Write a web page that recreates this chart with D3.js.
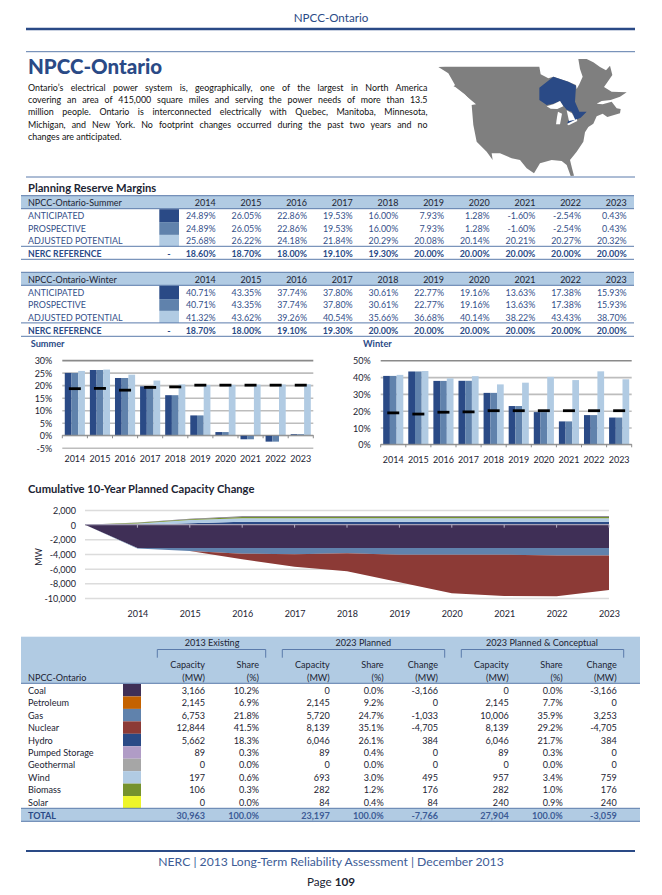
<!DOCTYPE html>
<html><head><meta charset="utf-8">
<script src="https://cdn.jsdelivr.net/npm/d3@7"></script>
<style>html,body{margin:0;padding:0;background:#fff}svg{display:block}text{font-family:Lato,"Open Sans",sans-serif;dominant-baseline:central}</style>
</head><body><svg id="page" width="662" height="895"></svg>
<script>
// ---------- data ----------
const years = [2014,2015,2016,2017,2018,2019,2020,2021,2022,2023];
const marginRows = ["ANTICIPATED","PROSPECTIVE","ADJUSTED POTENTIAL"];
const summerAnticipated = [24.89,26.05,22.86,19.53,16.00,7.93,1.28,-1.60,-2.54,0.43];
const summerProspective = [24.89,26.05,22.86,19.53,16.00,7.93,1.28,-1.60,-2.54,0.43];
const summerAdjusted = [25.68,26.22,24.18,21.84,20.29,20.08,20.14,20.21,20.27,20.32];
const summerReference = [18.60,18.70,18.00,19.10,19.30,20.00,20.00,20.00,20.00,20.00];
const winterAnticipated = [40.71,43.35,37.74,37.80,30.61,22.77,19.16,13.63,17.38,15.93];
const winterProspective = [40.71,43.35,37.74,37.80,30.61,22.77,19.16,13.63,17.38,15.93];
const winterAdjusted = [41.32,43.62,39.26,40.54,35.66,36.68,40.14,38.22,43.43,38.70];
const winterReference = [18.70,18.00,19.10,19.30,20.00,20.00,20.00,20.00,20.00,20.00];
const summerTicks = [-5,0,5,10,15,20,25,30];
const winterTicks = [0,10,20,30,40,50];

const areaYears = [2013,2014,2015,2016,2017,2018,2019,2020,2021,2022,2023];
const areaCoal = [0,-3166,-3166,-3166,-3166,-3166,-3166,-3166,-3166,-3166,-3166];
const areaGas = [0,-100,-420,-790,-870,-740,-925,-925,-925,-1033,-1033];
const areaNuclear = [0,0,0,-770,-1690,-2460,-3770,-5270,-5640,-5570,-4705];
const areaHydro = [0,0,180,384,384,384,384,384,384,384,384];
const areaWind = [0,150,440,495,495,495,495,495,495,495,495];
const areaBiomass = [0,100,130,176,176,176,176,176,176,176,176];
const areaSolar = [0,50,70,84,84,84,84,84,84,84,84];
const areaTicks = [2000,0,-2000,-4000,-6000,-8000,-10000];

const fuels = ["Coal","Petroleum","Gas","Nuclear","Hydro","Pumped Storage","Geothermal","Wind","Biomass","Solar"];
const fuelColors = ["#3f2f56","#c46200","#6082ac","#8c3a36","#2a4a86","#b09cc6","#a6a6a6","#b1cbe3","#76922d","#eef52a"];
const existingCapacity = [3166,2145,6753,12844,5662,89,0,197,106,0];
const existingShare = [10.2,6.9,21.8,41.5,18.3,0.3,0.0,0.6,0.3,0.0];
const plannedCapacity = [0,2145,5720,8139,6046,89,0,693,282,84];
const plannedShare = [0.0,9.2,24.7,35.1,26.1,0.4,0.0,3.0,1.2,0.4];
const plannedChange = [-3166,0,-1033,-4705,384,0,0,495,176,84];
const conceptualCapacity = [0,2145,10006,8139,6046,89,0,957,282,240];
const conceptualShare = [0.0,7.7,35.9,29.2,21.7,0.3,0.0,3.4,1.0,0.9];
const conceptualChange = [-3166,0,3253,-4705,384,0,0,759,176,240];
const totals = [30963,100.0,23197,100.0,-7766,27904,100.0,-3059];

const bodyLines = [
 "Ontario\u2019s electrical power system is, geographically, one of the largest in North America",
 "covering an area of 415,000 square miles and serving the power needs of more than 13.5",
 "million people. Ontario is interconnected electrically with Quebec, Manitoba, Minnesota,",
 "Michigan, and New York. No footprint changes occurred during the past two years and no",
 "changes are anticipated."];

// map outlines, in the map's own sketch units
const mapLand = [[55,66],[75,65],[358,65],[362,88],[385,100],[400,95],[445,110],[468,120],[470,132],[478,118],[488,95],[480,72],[475,42],[500,42],[520,52],[540,66],[558,76],[570,62],[577,90],[562,112],[552,126],[575,140],[620,142],[600,155],[572,165],[545,168],[530,176],[548,178],[575,170],[590,190],[602,192],[600,205],[562,216],[548,206],[530,214],[520,236],[505,246],[495,262],[490,290],[470,320],[450,345],[456,370],[462,392],[452,393],[440,360],[425,348],[395,345],[360,355],[342,385],[320,370],[300,345],[275,340],[240,325],[215,325],[218,345],[200,320],[170,290],[160,240],[155,180],[168,178],[135,150],[100,125],[105,120],[85,85]];
const mapOntario = [[358,128],[400,95],[445,110],[468,122],[465,170],[478,200],[500,200],[482,218],[468,224],[441,236],[448,222],[462,214],[455,200],[440,194],[428,180],[420,168],[400,176],[380,180],[358,165]];
const mapLakes = [
 [[380,184],[400,178],[420,168],[430,184],[412,192],[392,191]],
 [[414,200],[426,206],[420,238],[408,238],[411,216]],
 [[440,196],[456,205],[466,224],[447,228],[443,210]],
 [[441,237],[470,222],[472,228],[446,241]],
 [[96,122],[106,126],[134,148],[150,165],[132,152],[108,138]]
];

// ---------- helpers ----------
const NAVY="#2a4a86", RULE="#5b7bab", BAND="#b1cbe3", INK="#1c2433", VAL="#34508a";
const svg=d3.select("#page");
function t(x,y,s,o={}){
  return svg.append("text").attr("x",x).attr("y",y).text(s)
    .attr("text-anchor",o.a||"start").attr("font-size",o.s||9)
    .attr("font-weight",o.w||(o.b?"700":"400")).attr("fill",o.c||INK);
}
function hr(x1,x2,y,c=RULE,w=1){svg.append("line").attr("x1",x1).attr("x2",x2).attr("y1",y).attr("y2",y).attr("stroke",c).attr("stroke-width",w);}
const pct=v=>v.toFixed(2)+"%";

// ---------- page furniture ----------
t(331,17,"NPCC-Ontario",{a:"middle",s:11.6,c:NAVY});
hr(26,635,29,NAVY,2.4);
hr(26,635,51.7);
hr(26,635,177);
t(28,66,"NPCC-Ontario",{s:20.5,w:"900",c:NAVY});
const bodyY=[87,99.6,111.8,124.2,136.7];
bodyLines.forEach((line,i)=>{
  const n=t(28,bodyY[i],line,{s:8.9,c:"#111"});
  if(i<bodyLines.length-1){
    const gaps=line.split(" ").length-1, len=n.node().getComputedTextLength();
    n.attr("word-spacing",(399.5-len)/gaps);
  }
});

// map
const mapGeo=d3.geoPath(d3.geoIdentity().scale(1/3).translate([420,45]));
const poly=r=>({type:"Polygon",coordinates:[[...r,r[0]].reverse()]});
svg.append("path").attr("d",mapGeo(poly(mapLand))).attr("fill","#7f7f7f");
svg.append("path").attr("d",mapGeo(poly(mapOntario))).attr("fill",NAVY);
mapLakes.forEach(l=>svg.append("path").attr("d",mapGeo(poly(l))).attr("fill","#fff"));

// ---------- reserve margin tables ----------
t(28,187,"Planning Reserve Margins",{s:11.2,b:1});
const colX=d3.scalePoint().domain(years).range([215.7,626.7]);
const shades=[NAVY,"#6082ac",BAND];
function marginTable(top,title,rows,ref,rowY){
  svg.append("rect").attr("x",21).attr("y",top).attr("width",613).attr("height",13).attr("fill",BAND);
  hr(21,634,top,RULE,1); hr(21,634,top+13,RULE,1);
  t(28,top+7,title,{s:9,c:INK});
  years.forEach(y=>t(colX(y),top+7,y,{a:"end",s:9,c:INK}));
  const edges=[top+13.5,rowY[0]+6.4,rowY[1]+6.2,rowY[2]+5.6];
  marginRows.forEach((name,i)=>{
    t(28,rowY[i],name,{s:8.9,c:VAL});
    svg.append("rect").attr("x",159.3).attr("y",edges[i]).attr("width",19.7).attr("height",edges[i+1]-edges[i]).attr("fill",shades[i]);
    years.forEach((y,j)=>t(colX(y),rowY[i],pct(rows[i][j]),{a:"end",s:8.9,c:VAL}));
  });
  hr(21,634,rowY[2]+5.6,RULE,1);
  t(28,rowY[3],"NERC REFERENCE",{s:8.7,b:1,c:NAVY});
  t(169,rowY[3],"-",{a:"middle",s:9,b:1,c:NAVY});
  years.forEach((y,j)=>t(colX(y),rowY[3],pct(ref[j]),{a:"end",s:8.9,b:1,c:NAVY}));
  hr(21,634,rowY[3]+5.6,RULE,1);
}
marginTable(195.7,"NPCC-Ontario-Summer",[summerAnticipated,summerProspective,summerAdjusted],summerReference,[215.7,228.7,240.7,253.7]);
marginTable(272.3,"NPCC-Ontario-Winter",[winterAnticipated,winterProspective,winterAdjusted],winterReference,[292.7,304.7,317.3,330.7]);

// ---------- bar charts ----------
function barChart(o){
  const g=svg.append("g");
  const x=d3.scaleBand().domain(years).range([o.x0,o.x1]);
  const y=d3.scaleLinear().domain(o.domain).range([o.yBottom,o.yTop]);
  const inner=d3.scaleBand().domain([0,1,2]).range([0,x.bandwidth()]).paddingOuter(0.37).paddingInner(0);
  const top=d3.max(o.ticks);
  // grid + value labels
  const ya=g.append("g").attr("transform",`translate(${o.x0},0)`)
    .call(d3.axisLeft(y).tickValues(o.ticks).tickSize(-(o.x1-o.x0)).tickPadding(10).tickFormat(d=>d+"%"));
  ya.select(".domain").remove();
  ya.selectAll(".tick line").attr("stroke",d=>d===top?"#8a8a8a":"#bdbdbd").attr("stroke-width",1.6);
  ya.selectAll(".tick text").attr("font-size",9).attr("fill",INK).attr("font-family","Lato").attr("dy",null);
  // bars
  o.series.forEach((vals,s)=>{
    g.append("g").selectAll("rect").data(vals).join("rect")
      .attr("x",(d,i)=>x(years[i])+inner(s))
      .attr("width",inner.bandwidth())
      .attr("y",d=>y(Math.max(0,d)))
      .attr("height",d=>Math.abs(y(d)-y(0)))
      .attr("fill",shades[s]);
  });
  // baseline + category boundary ticks
  g.append("line").attr("x1",o.x0).attr("x2",o.x1).attr("y1",y(0)).attr("y2",y(0)).attr("stroke","#8a8a8a").attr("stroke-width",1);
  g.append("g").selectAll("line").data([...years.map(v=>x(v)),o.x1]).join("line")
    .attr("x1",d=>d).attr("x2",d=>d).attr("y1",y(0)).attr("y2",y(0)+3).attr("stroke","#8a8a8a");
  // NERC reference dashes
  g.append("g").selectAll("line").data(o.ref).join("line")
    .attr("x1",(d,i)=>x(years[i])+x.bandwidth()/2-6)
    .attr("x2",(d,i)=>x(years[i])+x.bandwidth()/2+6)
    .attr("y1",d=>y(d)).attr("y2",d=>y(d))
    .attr("stroke","#000").attr("stroke-width",2.8);
  // category labels
  const xa=g.append("g").attr("transform",`translate(0,${o.labelY})`).call(d3.axisBottom(x).tickSize(0).tickPadding(0));
  xa.select(".domain").remove();
  xa.selectAll("text").attr("font-size",9).attr("fill",INK).attr("font-family","Lato").attr("dy",null).attr("y",0);
}
t(30.7,343,"Summer",{s:9.2,b:1,c:NAVY});
t(363,343,"Winter",{s:9.2,b:1,c:NAVY});
barChart({x0:62.3,x1:313.3,yTop:360.1,yBottom:447.8,domain:[-5,30],ticks:summerTicks,labelY:458.7,
  series:[summerAnticipated,summerProspective,summerAdjusted],ref:summerReference});
barChart({x0:380.7,x1:631.7,yTop:360.3,yBottom:444.3,domain:[0,50],ticks:winterTicks,labelY:459,
  series:[winterAnticipated,winterProspective,winterAdjusted],ref:winterReference});

// ---------- capacity change area ----------
const fmtN=v=>d3.format(",")(v).replace("\u2212","-");
t(28,488,"Cumulative 10-Year Planned Capacity Change",{s:11.2,b:1});
(function(){
  const g=svg.append("g");
  const x=d3.scalePoint().domain(areaYears).range([85,609]);
  const y=d3.scaleLinear().domain([-10000,2000]).range([598,510]);
  const ya=g.append("g").attr("transform","translate(85,0)")
    .call(d3.axisLeft(y).tickValues(areaTicks).tickSize(-524).tickPadding(9).tickFormat(fmtN));
  ya.select(".domain").remove();
  ya.selectAll(".tick line").attr("stroke","#dcdcdc").attr("stroke-width",1.5);
  ya.selectAll(".tick text").attr("font-size",9).attr("fill",INK).attr("font-family","Lato").attr("dy",null);
  const series={Coal:areaCoal,Gas:areaGas,Nuclear:areaNuclear,Hydro:areaHydro,Wind:areaWind,Biomass:areaBiomass,Solar:areaSolar};
  const rows=areaYears.map((yr,i)=>{const r={year:yr};Object.keys(series).forEach(k=>r[k]=series[k][i]);return r;});
  // losses stack downward from zero, additions stack upward
  const stacks=[...d3.stack().keys(["Coal","Gas","Nuclear"])(rows),...d3.stack().keys(["Hydro","Wind","Biomass","Solar"])(rows)];
  const area=d3.area().x(d=>x(d.data.year)).y0(d=>y(d[0])).y1(d=>y(d[1]));
  const fills={Coal:fuelColors[0],Gas:fuelColors[2],Nuclear:fuelColors[3],Hydro:fuelColors[4],Wind:fuelColors[7],Biomass:fuelColors[8],Solar:"#6f6a78"};
  g.append("g").selectAll("path").data(stacks).join("path").attr("d",area).attr("fill",d=>fills[d.key]);
  // axis at zero
  g.append("line").attr("x1",85).attr("x2",609).attr("y1",y(0)).attr("y2",y(0)).attr("stroke","#a5a0b5").attr("stroke-width",1.4);
  g.append("g").selectAll("line").data(areaYears.slice(1)).join("line")
    .attr("x1",d=>x(d)).attr("x2",d=>x(d)).attr("y1",y(0)).attr("y2",y(0)+3).attr("stroke","#b5b0c2");
  const xa=g.append("g").attr("transform","translate(0,613)").call(d3.axisBottom(x).tickValues(areaYears.slice(1)).tickSize(0).tickPadding(0));
  xa.select(".domain").remove();
  xa.selectAll("text").attr("font-size",9).attr("fill",INK).attr("font-family","Lato").attr("dy",null).attr("y",0);
  svg.append("text").attr("transform","translate(38,557) rotate(-90)").attr("text-anchor","middle").attr("font-size",9).attr("fill",INK).text("MW");
})();

// ---------- capacity table ----------
svg.append("rect").attr("x",21).attr("y",636.7).attr("width",619).attr("height",46.6).attr("fill",BAND);
hr(21,640,683.3,RULE,1);
[[157.3,265.7,212,"2013 Existing"],[282.3,444.7,363.3,"2023 Planned"],[461.3,623.7,542,"2023 Planned & Conceptual"]].forEach(b=>{
  svg.append("path").attr("d",d3.line()([[b[0],657.7],[b[0],649.5],[b[1],649.5],[b[1],657.7]])).attr("fill","none").attr("stroke",RULE);
  t(b[2],642.7,b[3],{a:"middle",s:9.1,c:INK});
});
t(28,677.7,"NPCC-Ontario",{s:9.1,c:INK});
const cols=[[205,"Capacity","(MW)"],[259,"Share","(%)"],[329.7,"Capacity","(MW)"],[383.7,"Share","(%)"],[438,"Change","(MW)"],[508.7,"Capacity","(MW)"],[562.7,"Share","(%)"],[616.7,"Change","(MW)"]];
cols.forEach(c=>{t(c[0],664.7,c[1],{a:"end",s:9.1,c:INK});t(c[0],677.7,c[2],{a:"end",s:9.1,c:INK});});
const rowBand=d3.scaleBand().domain(fuels).range([684,808.5]);
const fmtS=v=>v.toFixed(1)+"%";
const tableCols=[[existingCapacity,fmtN],[existingShare,fmtS],[plannedCapacity,fmtN],[plannedShare,fmtS],[plannedChange,fmtN],[conceptualCapacity,fmtN],[conceptualShare,fmtS],[conceptualChange,fmtN]];
fuels.forEach((f,i)=>{
  const cy=rowBand(f)+rowBand.bandwidth()/2;
  t(28,cy,f,{s:9.1,c:INK});
  svg.append("rect").attr("x",123).attr("y",rowBand(f)).attr("width",18).attr("height",rowBand.bandwidth()).attr("fill",fuelColors[i]);
  tableCols.forEach((tc,j)=>t(cols[j][0],cy,tc[1](tc[0][i]),{a:"end",s:9.1,c:INK}));
});
svg.append("rect").attr("x",21).attr("y",808.3).attr("width",619).attr("height",13).attr("fill",BAND);
hr(21,640,808.3,RULE,1); hr(21,640,821.3,RULE,1);
t(28,815.4,"TOTAL",{s:9,b:1,c:NAVY});
totals.forEach((v,j)=>t(cols[j][0],815.4,tableCols[j][1](v),{a:"end",s:9.1,b:1,c:"#3d5c96"}));

// ---------- footer ----------
hr(26,635,851,NAVY,2);
t(331,861.7,"NERC | 2013 Long-Term Reliability Assessment | December 2013",{a:"middle",s:12.2,c:"#3d5c96"});
const pg=svg.append("text").attr("x",331).attr("y",880.7).attr("text-anchor","middle").attr("font-size",11.7).attr("fill",INK);
pg.append("tspan").text("Page ");
pg.append("tspan").attr("font-weight","700").text("109");
</script></body></html>
